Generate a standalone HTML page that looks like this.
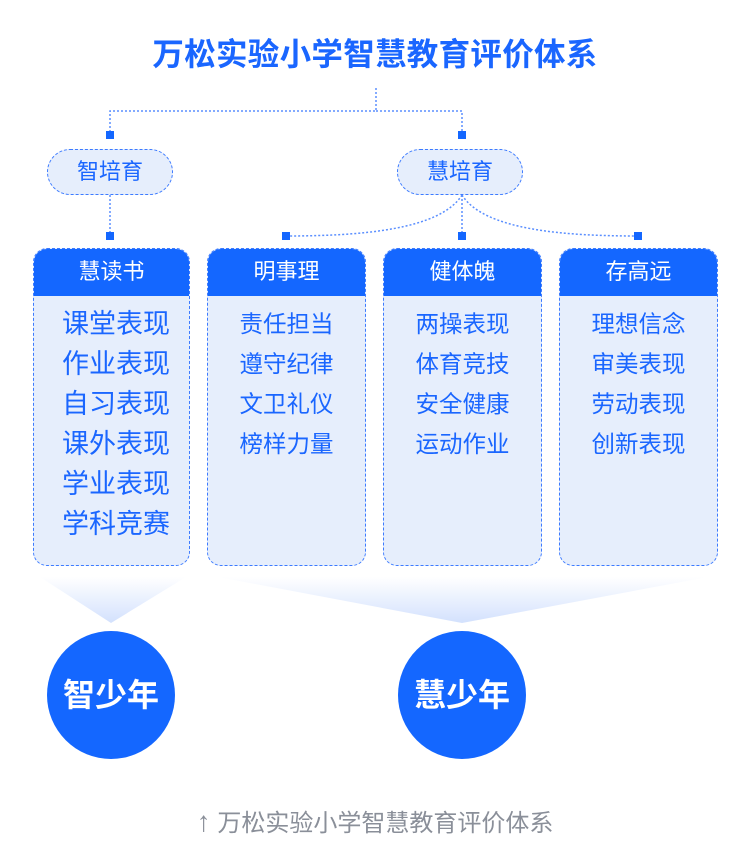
<!DOCTYPE html>
<html><head><meta charset="utf-8"><style>
body{margin:0;width:750px;height:864px;background:#fff;position:relative;overflow:hidden;font-family:"Liberation Sans","Noto Sans CJK SC",sans-serif}
.a{position:absolute}
.title{left:0;width:750px;top:33px;text-align:center;font-size:31.5px;font-weight:bold;color:#1a66ff;line-height:42px;letter-spacing:0.3px}
.pill{height:44px;width:124px;border:1px dashed #3d7bff;border-radius:23px;background:#e6eefc;color:#1a66ff;font-size:22px;text-align:center;line-height:44px;top:149px}
.card{top:248px;height:318px;border:1px dashed #3d7bff;border-radius:14px;background:#e6eefc;overflow:hidden;box-sizing:border-box}
.hd{height:48px;background:#1467ff;color:#fff;font-size:22px;text-align:center;line-height:48px;margin:-1px -1px 0}
.items{color:#1a66ff;text-align:center;padding-top:8px}
.items div{height:40px;line-height:40px;font-size:23.5px}
.big{text-align:left;padding-left:28px}
.big div{font-size:27px}
.circ{top:631px;width:128px;height:128px;border-radius:50%;background:#1467ff;color:#fff;font-weight:bold;font-size:32px;text-align:center;line-height:128px}
.foot{left:0;width:750px;top:806px;text-align:center;color:#8a8f99;font-size:24px;line-height:32px}
</style></head><body>
<svg class="a" style="left:0;top:0" width="750" height="864">
<defs>
<linearGradient id="g" x1="0" y1="0" x2="0" y2="1"><stop offset="0" stop-color="#fff"/><stop offset="1" stop-color="#d3e1fd"/></linearGradient>
</defs>
<g fill="none" stroke="#5b8fff" stroke-width="1.5" stroke-dasharray="2 2">
<path d="M376 88V111H110V135M376 111H462V135"/>
<path d="M110 195V236"/>
<path d="M462 195V236"/>
<path d="M462 195C440 230 360 236 286 236"/>
<path d="M462 195C484 230 564 236 638 236"/>
</g>
<g fill="#1467ff">
<rect x="106" y="131" width="8" height="8"/><rect x="458" y="131" width="8" height="8"/>
<rect x="106" y="232" width="8" height="8"/><rect x="282" y="232" width="8" height="8"/>
<rect x="458" y="232" width="8" height="8"/><rect x="634" y="232" width="8" height="8"/>
</g>
<polygon points="40,577 186,577 111,623" fill="url(#g)"/>
<polygon points="218,577 708,577 462,623" fill="url(#g)"/>
</svg>
<div class="a title">万松实验小学智慧教育评价体系</div>
<div class="a pill" style="left:47px">智培育</div>
<div class="a pill" style="left:397px">慧培育</div>
<div class="a card" style="left:33px;width:157px"><div class="hd">慧读书</div><div class="items big"><div>课堂表现</div><div>作业表现</div><div>自习表现</div><div>课外表现</div><div>学业表现</div><div>学科竞赛</div></div></div>
<div class="a card" style="left:207px;width:159px"><div class="hd">明事理</div><div class="items"><div>责任担当</div><div>遵守纪律</div><div>文卫礼仪</div><div>榜样力量</div></div></div>
<div class="a card" style="left:383px;width:159px"><div class="hd">健体魄</div><div class="items"><div>两操表现</div><div>体育竞技</div><div>安全健康</div><div>运动作业</div></div></div>
<div class="a card" style="left:559px;width:159px"><div class="hd">存高远</div><div class="items"><div>理想信念</div><div>审美表现</div><div>劳动表现</div><div>创新表现</div></div></div>
<div class="a circ" style="left:47px">智少年</div>
<div class="a circ" style="left:398px">慧少年</div>
<div class="a foot"><span style="font-size:28px">↑</span> 万松实验小学智慧教育评价体系</div>
</body></html>
